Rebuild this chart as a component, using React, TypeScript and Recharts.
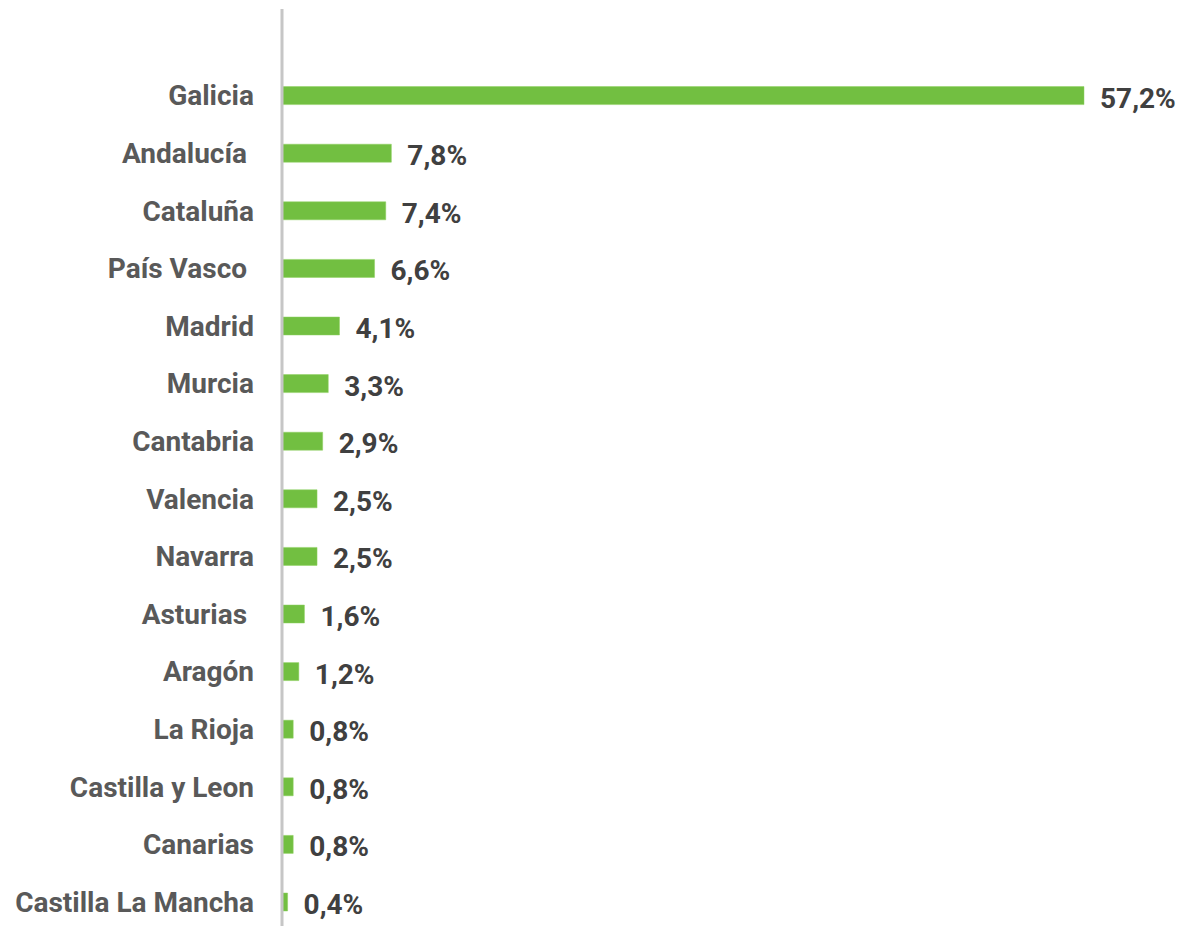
import React from 'react';
import { BarChart, Bar, XAxis, YAxis, LabelList } from 'recharts';

const categories = [
  '',
  'Galicia',
  'Andalucía ',
  'Cataluña',
  'País Vasco ',
  'Madrid',
  'Murcia',
  'Cantabria',
  'Valencia',
  'Navarra',
  'Asturias ',
  'Aragón',
  'La Rioja',
  'Castilla y Leon',
  'Canarias',
  'Castilla La Mancha',
];
const values: (number | null)[] = [null, 57.2, 7.8, 7.4, 6.6, 4.1, 3.3, 2.9, 2.5, 2.5, 1.6, 1.2, 0.8, 0.8, 0.8, 0.4];
const valueLabels = ['', '57,2%', '7,8%', '7,4%', '6,6%', '4,1%', '3,3%', '2,9%', '2,5%', '2,5%', '1,6%', '1,2%', '0,8%', '0,8%', '0,8%', '0,4%'];

const data = categories.map((c, i) => ({ name: c, value: values[i], label: valueLabels[i] }));

const FONT = 'Roboto, "DejaVu Sans", sans-serif';

const CatTick = (props: any) => {
  const { x, y, payload } = props;
  return (
    <text
      x={x}
      y={y}
      dy="0.36em"
      textAnchor="end"
      fill="#595959"
      fontFamily={FONT}
      fontWeight={700}
      fontSize={28}
      style={{ whiteSpace: 'pre' }}
    >
      {payload.value}
    </text>
  );
};

const ValueLabel = (props: any) => {
  const { x, y, width, height, value } = props;
  if (!value) return null;
  return (
    <text
      x={x + width + 16}
      y={y + height / 2 + 2}
      dy="0.36em"
      textAnchor="start"
      fill="#404040"
      fontFamily={FONT}
      fontWeight={700}
      fontSize={28}
    >
      {value}
    </text>
  );
};

export default function App() {
  return (
    <div style={{ position: 'fixed', left: 0, top: 0, width: 1183, height: 926, overflow: 'hidden', background: '#fff' }}>
      <BarChart
        width={1183}
        height={940}
        data={data}
        layout="vertical"
        margin={{ top: 9, right: 99, bottom: 9.4, left: 0 }}
      >
        <XAxis type="number" domain={[0, 57.2]} hide />
        <YAxis
          type="category"
          dataKey="name"
          width={282}
          axisLine={{ stroke: '#c6c6c6', strokeWidth: 3 }}
          tickLine={false}
          tickSize={0}
          tickMargin={28}
          tick={<CatTick />}
          interval={0}
        />
        <Bar dataKey="value" fill="#72bf41" stroke="#8fd060" strokeWidth={0.5} barSize={18} isAnimationActive={false}>
          <LabelList dataKey="label" content={<ValueLabel />} />
        </Bar>
      </BarChart>
    </div>
  );
}
